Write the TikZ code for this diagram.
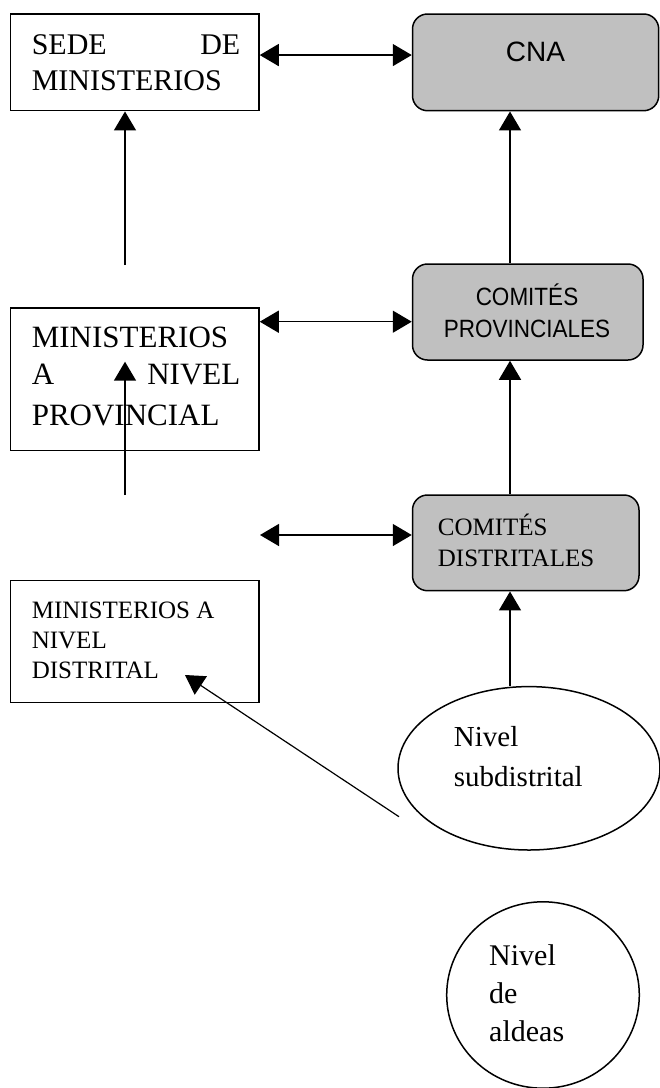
\documentclass[tikz,border=0pt]{standalone}
\usepackage{fontspec}
\setmainfont{Liberation Serif}
\newfontfamily\sansf{Liberation Sans}
\newfontfamily\sansn[FakeStretch=0.9]{Liberation Sans}
\usetikzlibrary{arrows.meta,shapes.geometric}
\begin{document}
\begin{tikzpicture}[x=1pt,y=-1pt,
  plainbox/.style={draw, line width=1.5pt, rectangle, inner sep=0pt},
  graybox/.style={draw, line width=1.5pt, rectangle, rounded corners=15pt, fill=boxgray, inner sep=0pt},
  oval/.style={draw, line width=1.5pt, ellipse, inner sep=0pt},
  txt/.style={anchor=base west, inner sep=0pt},
  ctxt/.style={anchor=base, inner sep=0pt},
  arr/.style={line width=1.5pt, -{Triangle[length=19pt,width=22pt]}},
  dbl/.style={line width=1.5pt, {Triangle[length=19pt,width=22pt]}-{Triangle[length=19pt,width=22pt]}}
]
\definecolor{boxgray}{HTML}{C0C0C0}
\useasboundingbox (0,0) rectangle (660,1088);

% boxes
\node[plainbox, minimum width=248.5pt, minimum height=96.7pt] (sede) at (134.75,62.35) {};
\node[graybox, minimum width=246.2pt, minimum height=96.7pt] (cna) at (535.6,62.35) {};
\node[graybox, minimum width=230.5pt, minimum height=96pt] (prov) at (527.75,312) {};
\node[plainbox, minimum width=248.5pt, minimum height=142.7pt] (minprov) at (134.75,379.35) {};
\node[graybox, minimum width=226.5pt, minimum height=95.7pt] (comdist) at (525.75,542.85) {};
\node[plainbox, minimum width=248.5pt, minimum height=122pt] (mindist) at (134.75,641.7) {};
\node[oval, minimum width=262pt, minimum height=163.4pt] (subd) at (529,768.3) {};
\node[oval, minimum width=192.6pt, minimum height=186.4pt] (aldeas) at (543,995) {};

% texts
\begin{scope}[font=\fontsize{30}{36}\selectfont]
\node[txt] (t1a) at (31.6,54.3) {\hbox to 208.5pt{SEDE\hfill DE}};
\node[txt] (t1b) at (31.6,90) {MINISTERIOS};
\end{scope}
\node[ctxt, font=\sansf\fontsize{28}{34}\selectfont] (t2) at (535.5,61.7) {CNA};
\begin{scope}[font=\sansn\fontsize{25}{30}\selectfont]
\node[ctxt] (t3a) at (527,305) {COMITÉS};
\node[ctxt] (t3b) at (527,337) {PROVINCIALES};
\end{scope}
\begin{scope}[font=\fontsize{31}{37}\selectfont]
\node[txt] (t4a) at (31.6,347) {MINISTERIOS};
\node[txt] (t4b) at (31.6,384) {\hbox to 208.5pt{A\hfill NIVEL}};
\node[txt] (t4c) at (31.6,425) {PROVINCIAL};
\end{scope}
\begin{scope}[font=\fontsize{25}{30}\selectfont]
\node[txt] (t5a) at (437.7,535) {COMITÉS};
\node[txt] (t5b) at (437.7,566.7) {DISTRITALES};
\node[txt] (t6a) at (31.6,618.3) {MINISTERIOS A};
\node[txt] (t6b) at (31.6,648.3) {NIVEL};
\node[txt] (t6c) at (31.6,678.3) {DISTRITAL};
\end{scope}
\begin{scope}[font=\fontsize{29}{35}\selectfont]
\node[txt] (t7a) at (453.7,746.7) {Nivel};
\node[txt] (t7b) at (453.7,786.7) {subdistrital};
\end{scope}
\begin{scope}[font=\fontsize{30}{36}\selectfont]
\node[txt] (t8a) at (489,965) {Nivel};
\node[txt] (t8b) at (489,1003) {de};
\node[txt] (t8c) at (489,1041.7) {aldeas};
\end{scope}

% connectors
\coordinate (xl) at (125,0);
\coordinate (xr) at (510,0);
\coordinate (a1) at (125,265);
\coordinate (a2s) at (125,495);
\coordinate (a2e) at (125,361.7);
\coordinate (dl) at (260,535);
\coordinate (pr) at ([yshift=-9.7pt]prov.west);
\coordinate (ds) at (399,816.7);
\coordinate (de) at (185,675);

\draw[dbl] ([yshift=7.3pt]sede.east) -- ([yshift=7.3pt]cna.west);
\draw[dbl] (pr -| minprov.east) -- (pr);
\draw[dbl] (dl) -- (dl -| comdist.west);
\draw[arr] (a1) -- (xl |- sede.south);
\draw[arr] (a2s) -- (a2e);
\draw[arr] (xr |- prov.north) -- (xr |- cna.south);
\draw[arr] (xr |- comdist.north) -- (xr |- prov.south);
\draw[arr] (xr |- subd.north) -- (xr |- comdist.south);
\draw[arr, line width=1.2pt] (ds) -- (de);
\end{tikzpicture}
\end{document}
